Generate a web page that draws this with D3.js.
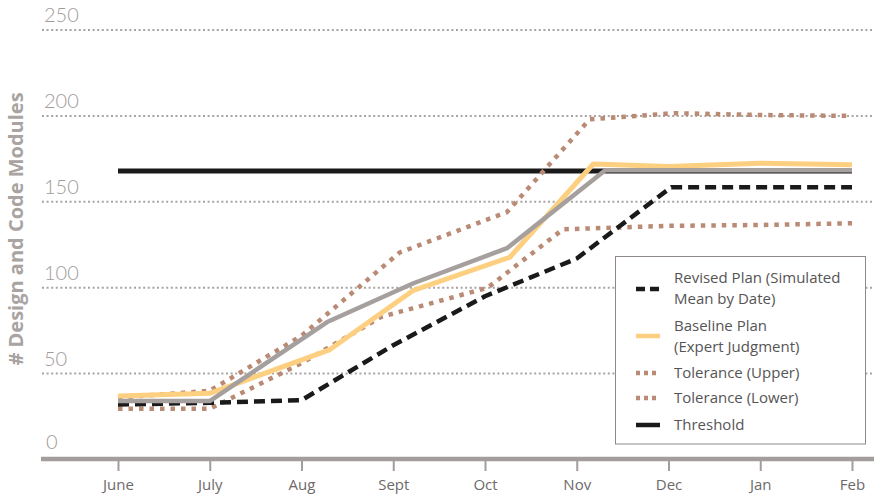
<!DOCTYPE html>
<html>
<head>
<meta charset="utf-8">
<script src="https://cdn.jsdelivr.net/npm/d3@7"></script>
<style>
  body { margin: 0; background: #fff; }
  svg { display: block; font-family: Lato, "Open Sans", sans-serif; }
</style>
</head>
<body>
<svg id="chart" width="874" height="500"></svg>
<script>
// mois de l'axe x
const months = ["June", "July", "Aug", "Sept", "Oct", "Nov", "Dec", "Jan", "Feb"];
const yTicks = [0, 50, 100, 150, 200, 250];

// séries : position (index de mois, fractionnaire) + valeur
const revisedPos = [0, 1, 2, 3, 4, 5, 6.03, 7, 8];
const revisedVal = [32, 33, 34.5, 66.5, 95, 117, 158.5, 158.5, 158.5];

const baselinePos = [0, 1, 2.31, 3.22, 4.27, 5.18, 6, 7, 8];
const baselineVal = [37, 38.5, 64, 98.5, 117.7, 172, 170.5, 172.5, 171.5];

const upperPos = [0, 1, 2, 3.07, 4.24, 5.14, 6.06, 7, 8];
const upperVal = [36, 40, 72, 120.5, 144, 198, 201.6, 200.5, 200];

const lowerPos = [0, 1, 2, 2.87, 4.03, 4.85, 6, 7, 8];
const lowerVal = [29.5, 29.5, 56, 83, 100, 134, 136, 136.5, 137.5];

const actualPos = [0, 1, 2.28, 3.22, 4.24, 5.31, 6, 7, 8];
const actualVal = [34, 34, 80, 102.6, 123, 168.4, 168.4, 168.4, 168.4];

const thresholdPos = [0, 8];
const thresholdVal = [168, 168];

// légende
const legendLabels = [
    ["Revised Plan (Simulated", "Mean by Date)"],
    ["Baseline Plan", "(Expert Judgment)"],
    ["Tolerance (Upper)"],
    ["Tolerance (Lower)"],
    ["Threshold"]
];

const svg = d3.select("#chart");

// échelles
const x = d3.scaleLinear().domain([0, 8]).range([118, 852]);
const y = d3.scaleLinear().domain([0, 250]).range([459.5, 30]);

// lignes de grille pointillées
svg.append("g")
    .selectAll("line")
    .data(yTicks.filter(d => d > 0))
    .enter()
    .append("line")
    .attr("x1", 42)
    .attr("x2", 874)
    .attr("y1", d => y(d))
    .attr("y2", d => y(d))
    .attr("stroke", "#a9a4a2")
    .attr("stroke-width", 2)
    .attr("stroke-dasharray", "2,2.6");

// libellés de l'axe y
svg.append("g")
    .selectAll("text")
    .data(yTicks)
    .enter()
    .append("text")
    .attr("x", d => d === 0 ? 46 : 44)
    .attr("y", d => d === 0 ? y(d) - 11 : y(d) - 8)
    .attr("font-size", 20)
    .attr("font-weight", 300)
    .attr("fill", "#a29c9a")
    .text(d => d);

// titre de l'axe y
svg.append("text")
    .attr("transform", "translate(23, 229) rotate(-90)")
    .attr("text-anchor", "middle")
    .attr("font-size", 20)
    .attr("font-weight", "bold")
    .attr("font-family", "'Open Sans', sans-serif")
    .attr("fill", "#a9a3a1")
    .text("# Design and Code Modules");

// axe x
const xAxis = d3.axisBottom(x)
    .tickValues(d3.range(months.length))
    .tickFormat(i => months[i])
    .tickSize(10)
    .tickPadding(8);

const gx = svg.append("g")
    .attr("transform", "translate(0, 461)")
    .call(xAxis);

gx.select(".domain").remove();
gx.selectAll(".tick line").attr("stroke", "#a39d9b").attr("stroke-width", 2);
gx.selectAll(".tick text")
    .attr("font-size", 15)
    .attr("font-family", "'Open Sans', sans-serif")
    .attr("fill", "#6e6a69");

svg.append("line")
    .attr("x1", 41)
    .attr("x2", 874)
    .attr("y1", 459)
    .attr("y2", 459)
    .attr("stroke", "#a39d9b")
    .attr("stroke-width", 4.5);

// générateur de ligne
const line = d3.line()
    .x(d => x(d[0]))
    .y(d => y(d[1]));

function drawSeries(pos, val, stroke, width, dash) {
    const pts = pos.map((p, i) => [p, val[i]]);
    svg.append("path")
        .datum(pts)
        .attr("d", line)
        .attr("fill", "none")
        .attr("stroke", stroke)
        .attr("stroke-width", width)
        .attr("stroke-dasharray", dash)
        .attr("stroke-linejoin", "round");
}

drawSeries(thresholdPos, thresholdVal, "#1a1a1a", 5, null);
drawSeries(lowerPos, lowerVal, "#b98a74", 4.5, "4.5,6");
drawSeries(upperPos, upperVal, "#b98a74", 4.5, "4.5,6");
drawSeries(revisedPos, revisedVal, "#1a1a1a", 4.5, "11,6");
drawSeries(baselinePos, baselineVal, "#fdd081", 5, null);
drawSeries(actualPos, actualVal, "#a59f9d", 4.5, null);

// boîte de légende
const legend = svg.append("g");

legend.append("rect")
    .attr("x", 615.5)
    .attr("y", 256.5)
    .attr("width", 250)
    .attr("height", 187.5)
    .attr("fill", "#fff")
    .attr("stroke", "#8f8a89")
    .attr("stroke-width", 1);

const legendStyles = [
    { stroke: "#1a1a1a", width: 4.5, dash: "9,5", cy: 289 },
    { stroke: "#fdd081", width: 4.5, dash: null, cy: 336 },
    { stroke: "#b98a74", width: 4.5, dash: "4,4", cy: 373 },
    { stroke: "#b98a74", width: 4.5, dash: "4,4", cy: 398 },
    { stroke: "#1a1a1a", width: 4.5, dash: null, cy: 425 }
];
const legendTextY = [[283, 304], [331, 352], [378], [403], [430]];

legendLabels.forEach(function(lines, i) {
    const s = legendStyles[i];
    legend.append("line")
        .attr("x1", 636)
        .attr("x2", 660)
        .attr("y1", s.cy)
        .attr("y2", s.cy)
        .attr("stroke", s.stroke)
        .attr("stroke-width", s.width)
        .attr("stroke-dasharray", s.dash);

    lines.forEach(function(t, j) {
        legend.append("text")
            .attr("x", 674)
            .attr("y", legendTextY[i][j])
            .attr("font-size", 15)
            .attr("font-family", "'Open Sans', sans-serif")
            .attr("fill", "#555")
            .text(t);
    });
});
</script>
</body>
</html>
